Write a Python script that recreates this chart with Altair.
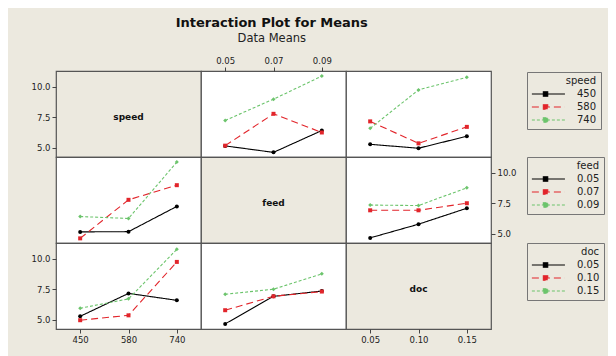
import altair as alt
import pandas as pd

# ---------------- data ----------------
speed_levels = ["450", "580", "740"]
feed_levels = ["0.05", "0.07", "0.09"]
doc_levels = ["0.05", "0.10", "0.15"]

# mean response; rows = levels of first factor, columns = levels of second factor
speed_feed = [[5.15, 4.62, 6.41],
              [5.17, 7.78, 6.25],
              [7.24, 8.98, 10.87]]
speed_doc = [[5.28, 4.96, 5.94],
             [7.16, 5.36, 6.71],
             [6.59, 9.74, 10.77]]
feed_doc = [[4.66, 5.78, 7.09],
            [6.92, 6.92, 7.50],
            [7.35, 7.31, 8.76]]

y_ticks = [5.0, 7.5, 10.0]

# ---------------- style ----------------
FONT = "DejaVu Sans"
BEIGE = "#ECE9DF"
BORDER = "#555555"
COLORS = ["#000000", "#E2252B", "#6CC46C"]
DASHES = [[1, 0], [7, 4], [3, 2]]
SHAPES = ["circle", "square", "diamond"]
W, H = 145, 86
YDOM = [4.24, 11.29]


def long_table(table, row_levels, col_levels, transpose=False):
    recs = []
    for i, r in enumerate(row_levels):
        for j, c in enumerate(col_levels):
            v = table[i][j]
            if transpose:
                recs.append({"series": c, "x": r, "value": v})
            else:
                recs.append({"series": r, "x": c, "value": v})
    return pd.DataFrame(recs)


def y_axis(orient):
    return alt.Axis(orient=orient, values=y_ticks, format=".1f", title=None,
                    domain=False, grid=False, tickSize=4, tickColor="#444",
                    labelFontSize=8.5, labelColor="#222", labelPadding=2,
                    labelFont=FONT)


def x_axis(orient):
    return alt.Axis(orient=orient, title=None, domain=False, grid=False,
                    tickSize=4, tickColor="#444", labelAngle=0,
                    labelFontSize=8.5, labelColor="#222", labelPadding=2,
                    labelFont=FONT)


# legend symbol: a line segment with a small marker in its middle
LEGEND_SYMBOL = "M-1,0H4.4M0.87,-0.36H1.59V0.36H0.87Z"


def legend(title, lx, ly):
    return alt.Legend(title=title, orient="none", legendX=lx, legendY=ly,
                      titleAnchor="end", titleAlign="right",
                      titleFontWeight="normal", titleFontSize=10,
                      titleFont=FONT, titleColor="#222", titlePadding=1,
                      labelFont=FONT, labelFontSize=10, labelColor="#222",
                      labelOffset=32, rowPadding=1,
                      symbolType=LEGEND_SYMBOL,
                      symbolSize=150, symbolStrokeWidth=1.1,
                      strokeColor="#777", padding=4, fillColor=BEIGE)


def panel(df, xlevels, slevels, xaxis=None, yaxis=None, leg=None):
    color = alt.Color("series:N", sort=slevels,
                      scale=alt.Scale(domain=slevels, range=COLORS), legend=leg)
    dash = alt.StrokeDash("series:N", sort=slevels,
                          scale=alt.Scale(domain=slevels, range=DASHES), legend=leg)
    x = alt.X("x:N", sort=xlevels,
              scale=alt.Scale(type="point", domain=xlevels, padding=0.5), axis=xaxis)
    y = alt.Y("value:Q", scale=alt.Scale(domain=YDOM, nice=False, zero=False), axis=yaxis)
    base = alt.Chart(df).encode(x=x, y=y, color=color)
    layers = [base.mark_line(strokeWidth=1.1).encode(strokeDash=dash)]
    for lev, shp in zip(slevels, SHAPES):
        layers.append(
            base.transform_filter(alt.datum.series == lev)
            .mark_point(filled=True, size=16, opacity=1, shape=shp))
    return alt.layer(*layers).properties(
        width=W, height=H, view=alt.ViewBackground(fill="white", stroke=BORDER, strokeWidth=1.2))


def diag(name, xdatum=None, xlevels=None, xaxis=None, yaxis=None):
    df = pd.DataFrame({"label": [name]})
    if xdatum is None:
        x = alt.value(W / 2)
    else:
        x = alt.XDatum(xdatum, type="nominal",
                       scale=alt.Scale(type="point", domain=xlevels, padding=0.5), axis=xaxis)
    y = alt.YDatum(7.5, type="quantitative",
                   scale=alt.Scale(domain=YDOM, nice=False, zero=False), axis=yaxis)
    return alt.Chart(df).mark_text(font=FONT, fontWeight="bold", fontSize=9,
                                   color="#111", baseline="middle").encode(
        x=x, y=y, text="label:N").properties(
        width=W, height=H, view=alt.ViewBackground(fill=BEIGE, stroke=BORDER, strokeWidth=1.2))


p11 = diag("speed", yaxis=y_axis("left"))
p12 = panel(long_table(speed_feed, speed_levels, feed_levels), feed_levels, speed_levels,
            xaxis=x_axis("top"))
p13 = panel(long_table(speed_doc, speed_levels, doc_levels), doc_levels, speed_levels,
            leg=legend("speed", 181, 1))
p21 = panel(long_table(speed_feed, speed_levels, feed_levels, transpose=True),
            speed_levels, feed_levels)
p22 = diag("feed")
p23 = panel(long_table(feed_doc, feed_levels, doc_levels), doc_levels, feed_levels,
            yaxis=y_axis("right"), leg=legend("feed", 181, 0))
p31 = panel(long_table(speed_doc, speed_levels, doc_levels, transpose=True),
            speed_levels, doc_levels, xaxis=x_axis("bottom"), yaxis=y_axis("left"))
p32 = panel(long_table(feed_doc, feed_levels, doc_levels, transpose=True),
            feed_levels, doc_levels, leg=legend("doc", 326, 0))
p33 = diag("doc", xdatum="0.10", xlevels=doc_levels, xaxis=x_axis("bottom"))

chart = alt.concat(p11, p12, p13, p21, p22, p23, p31, p32, p33,
                   columns=3, spacing=0, bounds="flush").resolve_scale(
    color="independent", strokeDash="independent",
    x="independent", y="independent"
).properties(
    title=alt.TitleParams("Interaction Plot for Means", subtitle="Data Means",
                          font=FONT, fontSize=13, fontWeight="bold", color="#111",
                          subtitleFont=FONT, subtitleFontSize=11.5, subtitleColor="#222",
                          subtitlePadding=3, anchor="middle", offset=11, dx=-46),
    background=BEIGE,
    padding={"left": 22, "top": 8, "right": 2, "bottom": 14},
).configure_view(stroke=BORDER)

chart.save("out.html", embed_options={"renderer": "svg", "actions": False})
